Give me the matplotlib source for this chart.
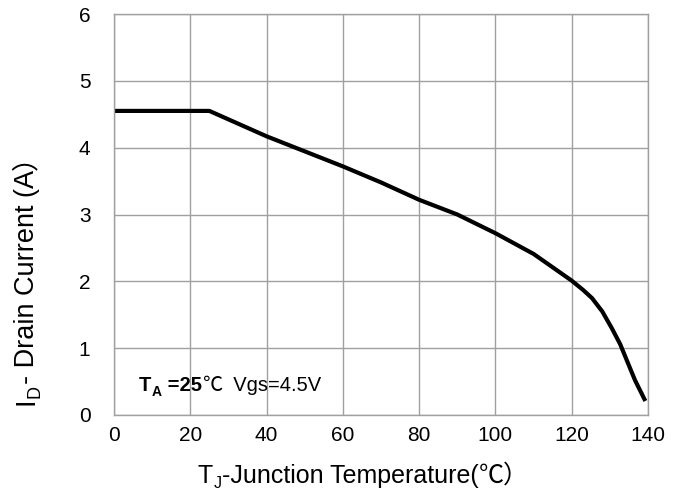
import matplotlib
matplotlib.use("Agg")
import matplotlib.pyplot as plt

# curve
temp = [0, 25, 40, 60, 70, 80, 90, 100, 110, 116.5, 120, 123, 125.3, 128, 130.5, 132.7, 134, 136.6, 139.3]
current = [4.55, 4.55, 4.17, 3.72, 3.48, 3.22, 3.0, 2.72, 2.41, 2.15, 2.01, 1.87, 1.75, 1.55, 1.30, 1.06, 0.88, 0.52, 0.21]

x_ticks = [0, 20, 40, 60, 80, 100, 120, 140]
y_ticks = [0, 1, 2, 3, 4, 5, 6]

FONTS = ["Liberation Sans", "Noto Sans CJK SC", "DejaVu Sans"]
CJK = ["Noto Sans CJK SC", "Liberation Sans"]
plt.rcParams["font.family"] = FONTS
GRID = "#a0a0a0"

fig = plt.figure(figsize=(6.82, 4.92), dpi=100)
ax = fig.add_axes([114 / 682, 1 - 415 / 492, (648 - 114) / 682, (415 - 14) / 492])

ax.plot(temp, current, color="black", lw=3, solid_joinstyle="round", solid_capstyle="butt")

ax.set_xlim(0, 140)
ax.set_ylim(0, 6)
ax.set_xticks(x_ticks)
ax.set_yticks(y_ticks)
ax.tick_params(length=0, labelsize=15)
ax.tick_params(axis="x", pad=8)
ax.tick_params(axis="y", pad=17)
ax.grid(True, color=GRID, lw=1)
for s in ax.spines.values():
    s.set_color(GRID)
    s.set_linewidth(1)


def chain_h(x, y, coords, parts):
    # horizontal pieces on one baseline, subscripts dropped a bit
    prev = ax.annotate(parts[0][0], xy=(x, y), xycoords=coords, ha="left", va="baseline",
                       fontsize=parts[0][1], weight=parts[0][2], family=parts[0][4],
                       annotation_clip=False)
    for s, size, weight, sub, fam in parts[1:]:
        prev = ax.annotate(s, xy=(1, y), xycoords=(prev, coords),
                           xytext=(0.5 if sub else 0, -3.5 if sub else 0),
                           textcoords="offset points", ha="left", va="baseline",
                           fontsize=size, weight=weight, family=fam,
                           annotation_clip=False)


def chain_v(x, y, parts):
    # rotated pieces (reading upwards), baseline is a vertical line at x
    prev = None
    for s, size, weight, sub, fam in parts:
        if prev is None:
            xy, xyc = (x, y), "figure fraction"
        else:
            xy, xyc = (x, 1), ("figure fraction", prev)
        prev = ax.annotate(s, xy=xy, xycoords=xyc,
                           xytext=(4 if sub else 0, 0), textcoords="offset points",
                           ha="left", va="baseline", rotation=90, rotation_mode="anchor",
                           fontsize=size, weight=weight, family=fam,
                           annotation_clip=False)


# x label
chain_h(198 / 682, 1 - 483 / 492, "figure fraction",
        [("T", 18, "normal", False, FONTS),
         ("J", 11.5, "normal", True, FONTS),
         ("-Junction Temperature(", 18, "normal", False, FONTS),
         ("℃）", 18, "normal", False, CJK)])

# y label
chain_v(34 / 682, 1 - 405 / 492,
        [("I", 19.5, "normal", False, FONTS),
         ("D", 13, "normal", True, FONTS),
         ("- Drain Current (A", 19.5, "normal", False, FONTS),
         ("）", 19.5, "normal", False, CJK)])

# condition note
chain_h(6.5, 0.36, "data",
        [("T", 14.5, "bold", False, FONTS),
         ("A", 10, "bold", True, FONTS),
         (" =25", 14.5, "bold", False, FONTS),
         ("℃", 14.5, "normal", False, CJK),
         ("  Vgs=4.5V", 14.5, "normal", False, FONTS)])

fig.savefig("out.png", dpi=100)
